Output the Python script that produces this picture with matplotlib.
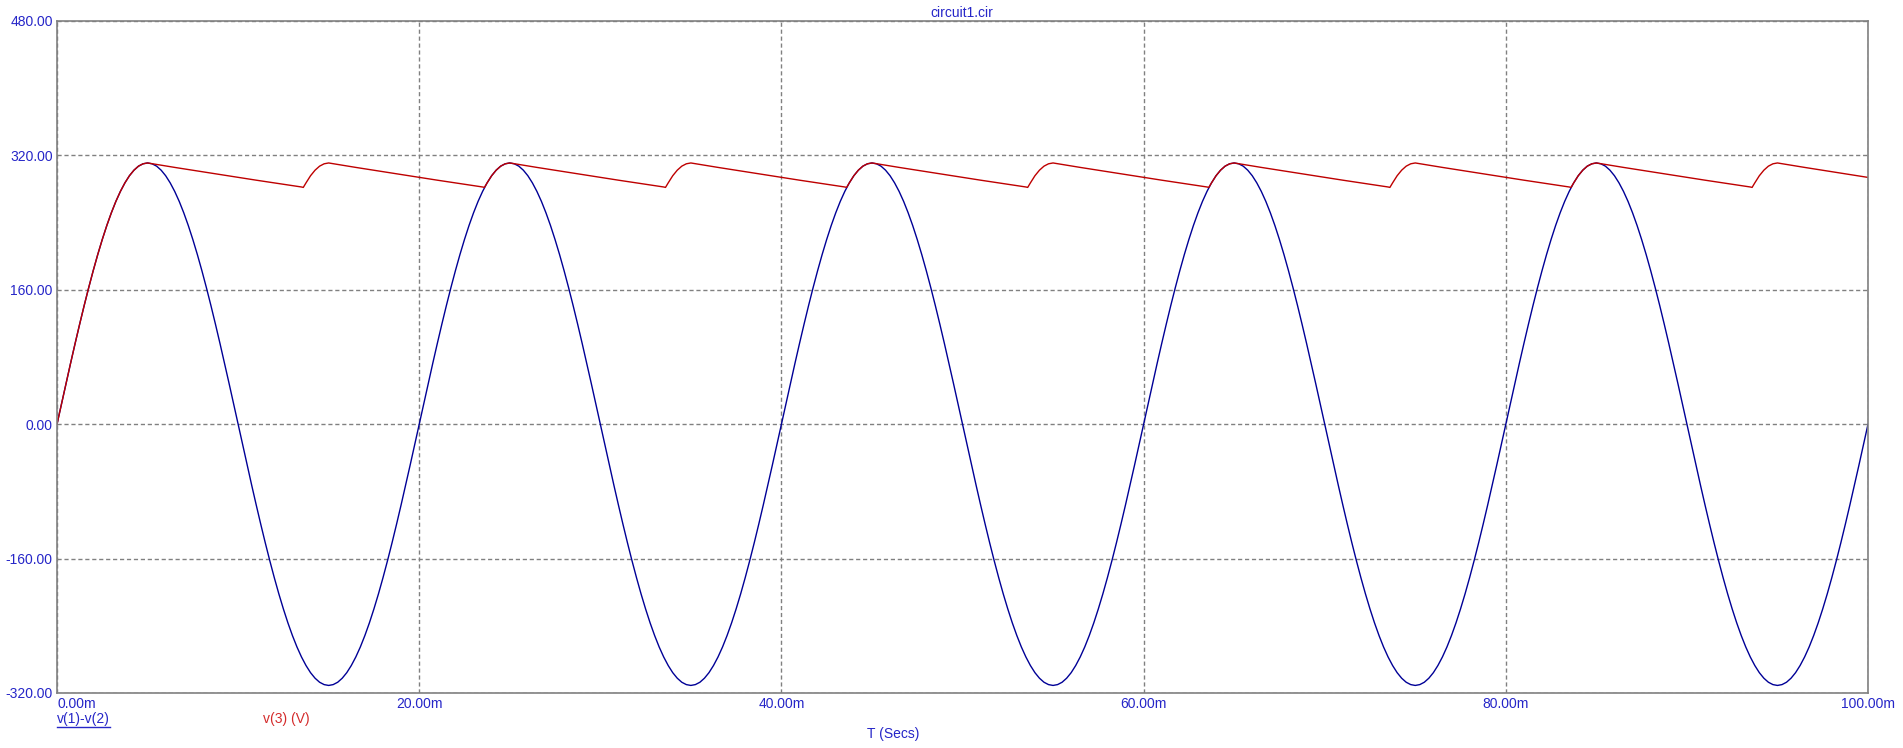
import numpy as np
import matplotlib
matplotlib.use("Agg")
import matplotlib.pyplot as plt
from matplotlib.lines import Line2D

plt.rcParams['font.family'] = ['Liberation Sans', 'DejaVu Sans']

# one period (20 ms) of the source voltage v(1)-v(2), sampled every 0.25 ms
src_step_ms = 0.25
src_period = [0.0, 24.4, 48.7, 72.6, 96.1, 119.0, 141.2, 162.5, 182.8, 202.0,
              219.9, 236.5, 251.6, 265.2, 277.1, 287.3, 295.8, 302.4, 307.2, 310.0,
              311.0, 310.0, 307.2, 302.4, 295.8, 287.3, 277.1, 265.2, 251.6, 236.5,
              219.9, 202.0, 182.8, 162.5, 141.2, 119.0, 96.1, 72.6, 48.7, 24.4,
              0.0, -24.4, -48.7, -72.6, -96.1, -119.0, -141.2, -162.5, -182.8, -202.0,
              -219.9, -236.5, -251.6, -265.2, -277.1, -287.3, -295.8, -302.4, -307.2, -310.0,
              -311.0, -310.0, -307.2, -302.4, -295.8, -287.3, -277.1, -265.2, -251.6, -236.5,
              -219.9, -202.0, -182.8, -162.5, -141.2, -119.0, -96.1, -72.6, -48.7, -24.4]
n_periods = 5

# v(3): initial charge (0..4.75 ms) then a 10 ms ripple cycle starting at each peak
rise_t = [0.0, 0.25, 0.5, 0.75, 1.0, 1.25, 1.5, 1.75, 2.0, 2.25,
          2.5, 2.75, 3.0, 3.25, 3.5, 3.75, 4.0, 4.25, 4.5, 4.75]
rise_v = [0.0, 24.4, 48.7, 72.6, 96.1, 119.0, 141.2, 162.5, 182.8, 202.0,
          219.9, 236.5, 251.6, 265.2, 277.1, 287.3, 295.8, 302.4, 307.2, 310.0]
ripple_dt = [0.0, 0.5, 1.0, 1.5, 2.0, 2.5, 3.0, 3.5, 4.0, 4.5, 5.0, 5.5, 6.0, 6.5,
             7.0, 7.5, 8.0, 8.5, 8.6, 8.75, 9.0, 9.25, 9.5, 9.75]
ripple_v = [311.0, 309.2, 307.5, 305.7, 304.0, 302.3, 300.6, 298.9, 297.2, 295.5,
            293.8, 292.2, 290.5, 288.9, 287.2, 285.6, 284.0, 282.4, 281.9,
            287.3, 295.8, 302.4, 307.2, 310.0]
peak_times = [5, 15, 25, 35, 45, 55, 65, 75, 85, 95]

x_ticks = [0, 20, 40, 60, 80, 100]
x_labels = ['0.00m', '20.00m', '40.00m', '60.00m', '80.00m', '100.00m']
y_ticks = [-320, -160, 0, 160, 320, 480]
y_labels = ['-320.00', '-160.00', '0.00', '160.00', '320.00', '480.00']

TXT_BLUE = '#2626c8'
LINE_BLUE = '#000096'
LINE_RED = '#be0000'
TXT_RED = '#d42a2a'

# build series
src_v = np.append(np.tile(src_period, n_periods), src_period[0])
src_t = np.arange(len(src_v)) * src_step_ms

out_t = list(rise_t)
out_v = list(rise_v)
for tp in peak_times:
    for dt, v in zip(ripple_dt, ripple_v):
        if tp + dt <= 100:
            out_t.append(tp + dt)
            out_v.append(v)

W, H = 1903, 748
fig = plt.figure(figsize=(W / 100, H / 100), dpi=100)
ax = fig.add_axes([57 / W, 1 - 693 / H, (1868 - 57) / W, (693 - 21) / H])

ax.plot(src_t, src_v, color=LINE_BLUE, lw=1.0)
ax.plot(out_t, out_v, color=LINE_RED, lw=1.0)

ax.set_xlim(0, 100)
ax.set_ylim(-320, 480)
ax.set_xticks(x_ticks)
ax.set_xticklabels(x_labels)
ax.set_yticks(y_ticks)
ax.set_yticklabels(y_labels)
ax.tick_params(length=0, labelsize=10, labelcolor=TXT_BLUE)
ax.tick_params(axis='x', pad=3)
ax.tick_params(axis='y', pad=3)
ax.get_xticklabels()[0].set_ha('left')
ax.grid(True, color='#808080', lw=1.0, linestyle=(0, (3, 2)))
for s in ax.spines.values():
    s.set_color('#808080')
    s.set_linewidth(1.2)

fig.text(962 / W, 1 - 13 / H, 'circuit1.cir', ha='center', va='center',
         fontsize=10, color=TXT_BLUE)
fig.text(893 / W, 1 - 734 / H, 'T (Secs)', ha='center', va='center',
         fontsize=10, color=TXT_BLUE)
leg1 = fig.text(57 / W, 1 - 719 / H, 'v(1)-v(2)', ha='left', va='center',
                fontsize=10, color=TXT_BLUE)
fig.text(263 / W, 1 - 719 / H, 'v(3) (V)', ha='left', va='center',
         fontsize=10, color=TXT_RED)

# underline the first trace name
fig.canvas.draw()
bb = leg1.get_window_extent()
fig.add_artist(Line2D([bb.x0 / W, bb.x1 / W], [(bb.y0 - 1) / H, (bb.y0 - 1) / H],
                      color=TXT_BLUE, lw=1.0))

fig.savefig('out.png', dpi=100)
